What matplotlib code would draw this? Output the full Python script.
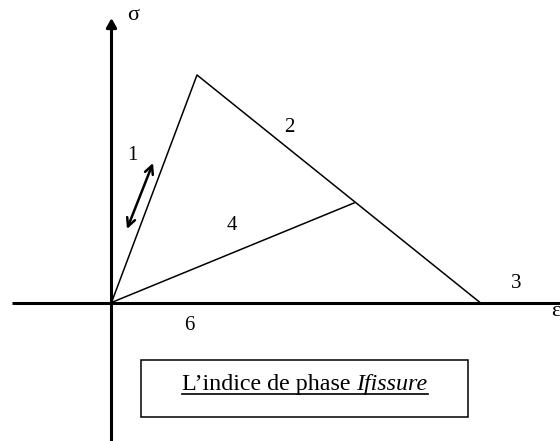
import matplotlib.pyplot as plt
from matplotlib.patches import Rectangle

plt.rcParams['font.family'] = ['Liberation Serif', 'DejaVu Serif']

# behaviour law, strain / stress measured from the axes crossing
eps_path = [0, 85.5, 368.5]
sig_path = [0, 227.5, 0]
eps_unload = [0, 242.5]
sig_unload = [0, 99.5]
eps_cycle = [15.5, 41.5]
sig_cycle = [73.5, 139.5]

phase_labels = ['1', '2', '3', '4', '6']
label_eps = [20.5, 177.5, 404.5, 120.5, 77.5]
label_sig = [147.5, 175.5, 19.5, 76.5, -22.5]

box_text = 'L\u2019indice de phase '
box_text_it = 'Ifissure'


def phase_plot():

    fig = plt.figure(figsize=(5.6, 4.41), dpi=100)
    ax = fig.add_axes([0, 0, 1, 1])
    ax.set_xlim(-111.5, 448.5)
    ax.set_ylim(-138.5, 302.5)
    ax.axis('off')

    # axes
    ax.plot([-99.5, 470], [0, 0], color='k', lw=2.2, solid_capstyle='butt')
    ax.annotate('', xy=(0, 284.5), xytext=(0, -145),
                arrowprops=dict(arrowstyle='-|>,head_length=0.27,head_width=0.15',
                                lw=2.2, color='k', mutation_scale=20,
                                shrinkA=0, shrinkB=0))
    ax.text(21.5, 287, '\u03c3', fontsize=16, ha='center', va='center')
    ax.text(444.5, -9.5, '\u03b5', fontsize=16, ha='center', va='center')

    # loading / softening / unloading
    ax.plot(eps_path, sig_path, color='k', lw=1.1)
    ax.plot(eps_unload, sig_unload, color='k', lw=1.1)
    ax.annotate('', xy=(eps_cycle[1], sig_cycle[1]), xytext=(eps_cycle[0], sig_cycle[0]),
                arrowprops=dict(arrowstyle='<->', lw=1.8, color='k',
                                mutation_scale=15, shrinkA=0, shrinkB=0))

    for lab, e, s in zip(phase_labels, label_eps, label_sig):
        ax.text(e, s, lab, fontsize=15, ha='center', va='center')

    # caption box
    ax.add_patch(Rectangle((29.5, -114.5), 327, 57, fill=False, ec='k', lw=1.1))
    t1 = ax.text(70.5, -87.5, box_text, fontsize=17.3, ha='left', va='baseline')
    fig.canvas.draw()
    inv = ax.transData.inverted()
    bb1 = t1.get_window_extent()
    x_it = inv.transform((bb1.x1, bb1.y0))[0]
    t2 = ax.text(x_it, -87.5, box_text_it, fontsize=17.3, style='italic',
                 ha='left', va='baseline')
    fig.canvas.draw()
    bb2 = t2.get_window_extent()
    x_end = inv.transform((bb2.x1, bb2.y0))[0]
    ax.plot([70.5, x_end], [-91.5, -91.5], color='k', lw=1.2)

    plt.savefig('out.png', dpi=100)


if __name__ == "__main__":

    phase_plot()
